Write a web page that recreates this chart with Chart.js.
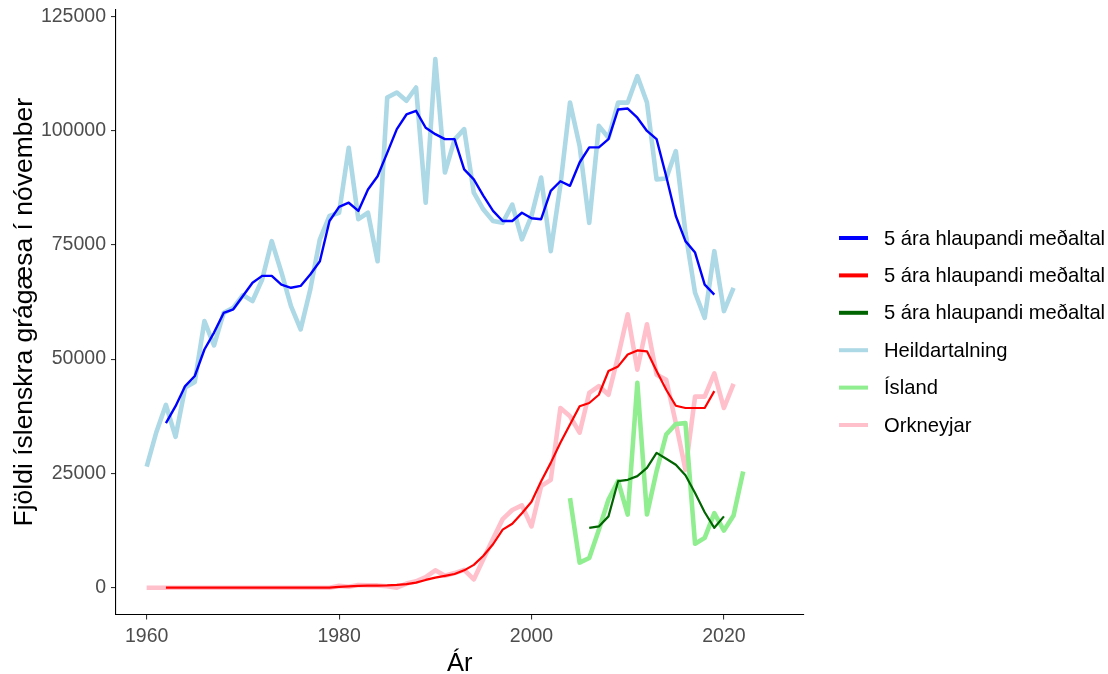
<!DOCTYPE html>
<html>
<head>
<meta charset="utf-8">
<title>Grágæsir í nóvember</title>
<script src="https://cdn.jsdelivr.net/npm/chart.js@4.4.1/dist/chart.umd.min.js"></script>
<style>
  html, body { margin: 0; padding: 0; background: #ffffff; }
  #wrap { width: 1108px; height: 674px; }
</style>
</head>
<body>
<div id="wrap"><canvas id="c" width="1108" height="674"></canvas></div>
<script>
// Heildartalning (heildarfjöldi), 1960–2021
const heildStart = 1960;
const heild = [
  26500, 34000, 40000, 33000, 43800, 45000, 58300, 53000, 60100, 61200,
  64000, 62700, 67400, 75800, 69000, 61600, 56500, 65200, 76200, 81300,
  82000, 96200, 80600, 82000, 71400, 107200, 108300, 106500, 109400, 84200,
  115600, 90800, 98000, 100300, 86400, 82700, 80200, 79800, 83800, 76200,
  81300, 89700, 73600, 88000, 106100, 96600, 79800, 101000, 98400, 106100,
  106100, 111900, 106100, 89300, 89500, 95500, 77700, 64500, 59000, 73600,
  60500, 65600
];

// 5 ára hlaupandi meðaltal heildartalningar, 1962–2019
const heildMAStart = 1962;
const heildMA = [
  36000, 39700, 44100, 46300, 52100, 55800, 60100, 60900, 63800, 66700,
  68200, 68200, 66300, 65600, 66000, 68500, 71400, 80200, 83300, 84200,
  82400, 87100, 90000, 95100, 100300, 103500, 104300, 100600, 99200, 98100,
  98100, 91500, 89300, 85700, 82400, 80200, 80200, 82000, 80800, 80600,
  86800, 88900, 87900, 93000, 96300, 96300, 98100, 104600, 104800, 102800,
  99900, 98100, 90000, 81300, 75800, 73300, 66300, 64100
];

// Orkneyjar, 1960–2021
const orkneyStart = 1960;
const orkney = [
  0, 0, 0, 0, 0, 0, 0, 0, 0, 0,
  0, 0, 0, 0, 0, 0, 0, 0, 0, 0,
  400, 200, 600, 500, 500, 300, 0, 900, 1400, 2300,
  3800, 2600, 3200, 3900, 1800, 6300, 10700, 15000, 17000, 18000,
  13400, 22200, 23600, 39300, 37500, 33900, 42600, 44100, 42200, 50600,
  59800, 47700, 57600, 46600, 45500, 36000, 25800, 41800, 41800, 46900,
  39300, 44600
];

// 5 ára hlaupandi meðaltal, Orkneyjar, 1962–2019
const orkneyMAStart = 1962;
const orkneyMA = [
  0, 0, 0, 0, 0, 0, 0, 0, 0, 0,
  0, 0, 0, 0, 0, 0, 0, 0, 200, 300,
  400, 450, 450, 500, 600, 800, 1100, 1700, 2200, 2600,
  3000, 3800, 5000, 7000, 9500, 12700, 14000, 16300, 18800, 23300,
  27300, 31700, 35700, 39700, 40400, 42200, 47400, 48400, 51000, 51900,
  51700, 47400, 43300, 39800, 39300, 39300, 39300, 43000
];

// Ísland, 2004–2022
const islandStart = 2004;
const island = [
  19600, 5500, 6500, 12700, 19300, 23300, 16000, 44800, 16000, 25500,
  33500, 35800, 36000, 9600, 10900, 16300, 12500, 15800, 25400
];

// 5 ára hlaupandi meðaltal, Ísland, 2006–2020
const islandMAStart = 2006;
const islandMA = [
  13100, 13400, 15600, 23300, 23600, 24400, 26200, 29500, 28200, 26900,
  24600, 20700, 16500, 13100, 15600
];

const xTicks = [1960, 1980, 2000, 2020];
const yTicks = [0, 25000, 50000, 75000, 100000, 125000];

const maLabel = '5 ára hlaupandi meðaltal';
const FONT = '"Liberation Sans", Arial, sans-serif';

function pts(start, values) {
  return values.map((v, i) => ({ x: start + i, y: v }));
}

function line(label, start, values, color, width) {
  return {
    label: label,
    data: pts(start, values),
    borderColor: color,
    backgroundColor: color,
    borderWidth: width,
    pointRadius: 0,
    pointHoverRadius: 0,
    tension: 0,
    fill: false,
    borderJoinStyle: 'round',
    borderCapStyle: 'butt'
  };
}

// Earlier datasets are painted on top, so the averages come first.
const datasets = [
  line(maLabel, heildMAStart, heildMA, '#0000FF', 2.4),
  line(maLabel, orkneyMAStart, orkneyMA, '#FF0000', 2.2),
  line(maLabel, islandMAStart, islandMA, '#006400', 2.2),
  line('Heildartalning', heildStart, heild, '#ADD8E6', 4.6),
  line('Ísland', islandStart, island, '#90EE90', 4.6),
  line('Orkneyjar', orkneyStart, orkney, '#FFC0CB', 4.6)
];

// Key drawn to the right of the plot, one row per series
const sideKey = {
  id: 'sideKey',
  afterDraw(chart) {
    const ctx = chart.ctx;
    ctx.save();
    chart.data.datasets.forEach((ds, i) => {
      const y = 238 + i * 37.4;
      ctx.strokeStyle = ds.borderColor;
      ctx.lineWidth = 4;
      ctx.lineCap = 'butt';
      ctx.beginPath();
      ctx.moveTo(839, y);
      ctx.lineTo(868, y);
      ctx.stroke();
      ctx.fillStyle = '#000000';
      ctx.font = '20.2px ' + FONT;
      ctx.textAlign = 'left';
      ctx.textBaseline = 'middle';
      ctx.fillText(ds.label, 884, y + 1);
    });
    ctx.restore();
  }
};

// keep the plot box fixed: no extra room reserved for end labels
function fixX(s) { s.height = 59.5; s.paddingLeft = 0; s.paddingRight = 0; }
function fixY(s) { s.width = 116; s.paddingTop = 0; s.paddingBottom = 0; }

new Chart(document.getElementById('c'), {
  type: 'line',
  data: { datasets: datasets },
  plugins: [sideKey],
  options: {
    responsive: false,
    animation: false,
    devicePixelRatio: 1,
    events: [],
    layout: { padding: { left: 0, top: 10, right: 304.6, bottom: 0 } },
    plugins: {
      legend: { display: false },
      tooltip: { enabled: false }
    },
    scales: {
      x: {
        type: 'linear',
        min: 1956.81,
        max: 2028.26,
        afterBuildTicks: s => { s.ticks = xTicks.map(v => ({ value: v })); },
        afterFit: fixX,
        grid: { display: true, drawOnChartArea: false, drawTicks: true, tickLength: 5, color: '#333333', lineWidth: 1.1 },
        border: { display: true, color: '#000000', width: 1.1 },
        ticks: {
          autoSkip: false, maxRotation: 0, padding: 5,
          color: '#4D4D4D', font: { family: FONT, size: 19.5 },
          callback: v => String(v)
        },
        title: {
          display: true, text: 'Ár', color: '#000000', padding: 0,
          font: { family: FONT, size: 25.5, lineHeight: 0.8 }
        }
      },
      y: {
        type: 'linear',
        min: -5860,
        max: 126350,
        afterBuildTicks: s => { s.ticks = yTicks.map(v => ({ value: v })); },
        afterFit: fixY,
        grid: { display: true, drawOnChartArea: false, drawTicks: true, tickLength: 5, color: '#333333', lineWidth: 1.1 },
        border: { display: true, color: '#000000', width: 1.1 },
        ticks: {
          padding: 5,
          color: '#4D4D4D', font: { family: FONT, size: 19.5 },
          callback: v => String(v)
        },
        title: {
          display: true, text: 'Fjöldi íslenskra grágæsa í nóvember', color: '#000000',
          padding: { top: 11, bottom: 0 },
          font: { family: FONT, size: 26.5, lineHeight: 1 }
        }
      }
    }
  }
});
</script>
</body>
</html>
